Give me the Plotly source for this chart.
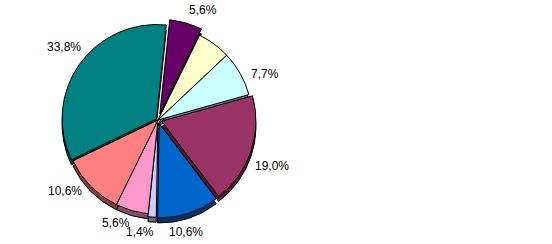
import math
import plotly.graph_objects as go

categories = ["A", "B", "C", "D", "E", "F", "G", "H", "I"]
values = [5.6, 5.7, 7.7, 19.0, 10.6, 1.4, 5.6, 10.6, 33.8]
labels_text = ["5,6%", "", "7,7%", "19,0%", "10,6%", "1,4%", "5,6%", "10,6%", "33,8%"]
colors = ["#660066", "#FFFFCC", "#CCFFFF", "#993366", "#0066CC", "#CCCCFF", "#FF99CC", "#FF8080", "#008080"]
side_colors = ["#330033", "#808066", "#668080", "#4D1A33", "#003366", "#666680", "#805066", "#804040", "#004040"]
pulls = [0.07, 0, 0, 0.04, 0.04, 0.03, 0, 0, 0.02]

W, H = 552, 244
cx, cy, half = 158, 120, 101
shift = 5
rotation = 6
label_turn = 5

def dom(dy):
    return dict(x=[(cx - half) / W, (cx + half) / W],
                y=[1 - (cy + dy + half) / H, 1 - (cy + dy - half) / H])

fig = go.Figure()
fig.add_trace(go.Pie(labels=categories, values=values, sort=False, direction="clockwise",
                     rotation=rotation, pull=pulls, domain=dom(shift),
                     marker=dict(colors=side_colors, line=dict(color="#000000", width=1)),
                     textinfo="none", hoverinfo="skip", showlegend=False))
fig.add_trace(go.Pie(labels=categories, values=values, sort=False, direction="clockwise",
                     rotation=rotation, pull=pulls, domain=dom(0),
                     marker=dict(colors=colors, line=dict(color="#000000", width=1)),
                     textinfo="none", showlegend=False))

# labels placed outside each slice, near its mid angle
r = half / (1 + max(pulls))
total = sum(values)
start = rotation
for v, t, p in zip(values, labels_text, pulls):
    span = v / total * 360
    mid = math.radians(start + span / 2 + label_turn)
    start += span
    if not t:
        continue
    dx, dy = math.sin(mid), -math.cos(mid)
    w, h = len(t) * 6.7, 13
    d = r * (1 + p) + 10
    px = cx + dx * d + dx * w / 2
    py = cy + dy * d + dy * h / 2
    fig.add_annotation(x=px / W, y=1 - py / H, xref="paper", yref="paper", text=t,
                       showarrow=False, xanchor="center", yanchor="middle",
                       font=dict(family="Liberation Sans, Arial", size=12, color="#000000"))

fig.update_layout(width=W, height=H, margin=dict(l=0, r=0, t=0, b=0),
                  paper_bgcolor="white", plot_bgcolor="white")
fig.write_html("out.html")
